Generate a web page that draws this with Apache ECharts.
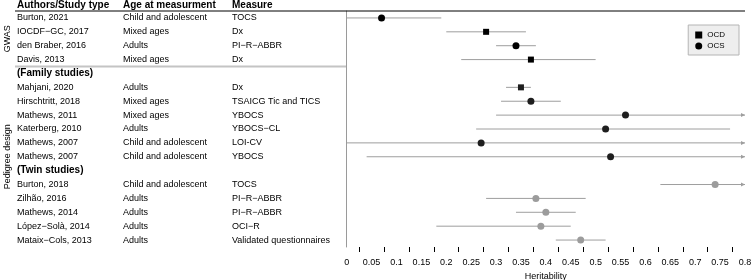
<!DOCTYPE html>
<html>
<head>
<meta charset="utf-8">
<script src="https://cdn.jsdelivr.net/npm/echarts@6/dist/echarts.min.js"></script>
<style>
  html, body { margin: 0; padding: 0; background: #fff; }
  #main { width: 752px; height: 280px; }
</style>
</head>
<body>
<div id="main"></div>
<script>
// table rows, top to bottom
var authors = ['Burton, 2021', 'IOCDF\u2212GC, 2017', 'den Braber, 2016', 'Davis, 2013',
    '(Family studies)', 'Mahjani, 2020', 'Hirschtritt, 2018', 'Mathews, 2011', 'Katerberg, 2010',
    'Mathews, 2007', 'Mathews, 2007', '(Twin studies)', 'Burton, 2018', 'Zilhão, 2016',
    'Mathews, 2014', 'López\u2212Solà, 2014', 'Mataix\u2212Cols, 2013'];
var ages = ['Child and adolescent', 'Mixed ages', 'Adults', 'Mixed ages',
    '', 'Adults', 'Mixed ages', 'Mixed ages', 'Adults',
    'Child and adolescent', 'Child and adolescent', '', 'Child and adolescent', 'Adults',
    'Adults', 'Adults', 'Adults'];
var measures = ['TOCS', 'Dx', 'PI\u2212R\u2212ABBR', 'Dx',
    '', 'Dx', 'TSAICG Tic and TICS', 'YBOCS', 'YBOCS\u2212CL',
    'LOI-CV', 'YBOCS', '', 'TOCS', 'PI\u2212R\u2212ABBR',
    'PI\u2212R\u2212ABBR', 'OCI\u2212R', 'Validated questionnaires'];
var groups = ['gwas', 'gwas', 'gwas', 'gwas',
    null, 'family', 'family', 'family', 'family',
    'family', 'family', null, 'twin', 'twin',
    'twin', 'twin', 'twin'];
var phenotypes = ['OCS', 'OCD', 'OCS', 'OCD',
    null, 'OCD', 'OCS', 'OCS', 'OCS',
    'OCS', 'OCS', null, 'OCS', 'OCS',
    'OCS', 'OCS', 'OCS'];
var estimates = [0.07, 0.28, 0.34, 0.37,
    null, 0.35, 0.37, 0.56, 0.52,
    0.27, 0.53, null, 0.74, 0.38,
    0.40, 0.39, 0.47];
var lower = [0, 0.20, 0.30, 0.23,
    null, 0.32, 0.31, 0.30, 0.26,
    0, 0.04, null, 0.63, 0.28,
    0.34, 0.18, 0.42];
var upper = [0.19, 0.36, 0.38, 0.50,
    null, 0.37, 0.43, 1.0, 0.77,
    1.0, 1.0, null, 1.0, 0.48,
    0.46, 0.45, 0.52];
var xMax = 0.8;

var groupColor = { gwas: '#000', family: '#1e1e1e', twin: '#9c9c9c' };
var ciColor = '#9e9e9e';

function pointData(type) {
    var out = [];
    for (var i = 0; i < estimates.length; i++) {
        if (phenotypes[i] !== type) continue;
        out.push({ value: [estimates[i], i], itemStyle: { color: groupColor[groups[i]] } });
    }
    return out;
}

var ciData = [];
for (var i = 0; i < estimates.length; i++) {
    if (estimates[i] === null) continue;
    ciData.push([lower[i], upper[i], i]);
}

function renderCI(params, api) {
    var lo = api.value(0), hi = api.value(1), row = api.value(2);
    var p0 = api.coord([Math.max(lo, 0), row]);
    var p1 = api.coord([Math.min(hi, xMax), row]);
    var kids = [{
        type: 'line',
        shape: { x1: p0[0], y1: p0[1], x2: p1[0], y2: p1[1] },
        style: { stroke: ciColor, lineWidth: 1 }
    }];
    if (hi > xMax) {
        kids.push({
            type: 'polygon',
            shape: { points: [[p1[0] - 4, p1[1] - 2], [p1[0], p1[1]], [p1[0] - 4, p1[1] + 2]] },
            style: { fill: ciColor }
        });
    }
    return { type: 'group', children: kids };
}

var font = 'Liberation Sans, Arial, Helvetica, sans-serif';

var option = {
    animation: false,
    textStyle: { fontFamily: font },
    title: {
        left: 17, top: 0, padding: 0,
        text: '{a|Authors/Study type}{b|Age at measurment}{c|Measure}',
        textStyle: {
            rich: {
                a: { width: 106, fontSize: 10, fontWeight: 'bold', color: '#000', fontFamily: font },
                b: { width: 109, fontSize: 10, fontWeight: 'bold', color: '#000', fontFamily: font },
                c: { fontSize: 10, fontWeight: 'bold', color: '#000', fontFamily: font }
            }
        }
    },
    legend: {
        right: 13, top: 25,
        orient: 'vertical',
        backgroundColor: '#eeeeee',
        borderColor: '#b4b4b4',
        borderWidth: 1,
        borderRadius: 0,
        padding: [6, 14, 5, 7],
        itemWidth: 7, itemHeight: 7, itemGap: 3,
        textStyle: { fontSize: 8, color: '#000', fontFamily: font },
        data: ['OCD', 'OCS']
    },
    grid: { left: 346.7, right: 7, top: 11, bottom: 33, outerBoundsMode: 'none' },
    xAxis: {
        type: 'value',
        min: 0, max: xMax, interval: 0.05,
        name: 'Heritability',
        nameLocation: 'middle',
        nameGap: 23,
        nameTextStyle: { fontSize: 9, color: '#000', fontFamily: font },
        axisLine: { lineStyle: { color: '#000', width: 1 } },
        axisTick: { length: 5, lineStyle: { color: '#000' } },
        minorTick: { show: true, splitNumber: 2, length: 5, lineStyle: { color: '#000' } },
        axisLabel: { fontSize: 9, color: '#000', margin: 11, fontFamily: font },
        splitLine: { show: false },
        minorSplitLine: { show: false }
    },
    yAxis: {
        type: 'category',
        inverse: true,
        data: authors,
        axisLine: { lineStyle: { color: '#9a9a9a' } },
        axisTick: { show: false },
        splitLine: { show: false },
        axisLabel: {
            align: 'left',
            margin: 329.7,
            interval: 0,
            formatter: function (v, idx) {
                if (groups[idx] === null) return '{h|' + authors[idx] + '}';
                return '{a|' + authors[idx] + '}{b|' + ages[idx] + '}{c|' + measures[idx] + '}';
            },
            rich: {
                a: { width: 106, fontSize: 9, color: '#000', fontFamily: font },
                b: { width: 109, fontSize: 9, color: '#000', fontFamily: font },
                c: { fontSize: 9, color: '#000', fontFamily: font },
                h: { fontSize: 10, fontWeight: 'bold', color: '#000', fontFamily: font }
            }
        }
    },
    series: [
        {
            name: 'CI',
            type: 'custom',
            renderItem: renderCI,
            encode: { x: [0, 1], y: 2 },
            clip: false,
            silent: true,
            z: 1,
            data: ciData
        },
        {
            name: 'OCD',
            type: 'scatter',
            symbol: 'rect',
            symbolSize: 6,
            itemStyle: { color: '#000', opacity: 1 },
            z: 3,
            data: pointData('OCD')
        },
        {
            name: 'OCS',
            type: 'scatter',
            symbol: 'circle',
            symbolSize: 7,
            itemStyle: { color: '#000', opacity: 1 },
            z: 3,
            data: pointData('OCS')
        }
    ]
};

var chart = echarts.init(document.getElementById('main'));
chart.setOption(option);

// table rules and the rotated design labels, placed from the axis scale
var rowY = function (i) { return chart.convertToPixel({ yAxisIndex: 0 }, i); };
var axisX = chart.convertToPixel({ xAxisIndex: 0 }, 0);
var endX = chart.convertToPixel({ xAxisIndex: 0 }, xMax);
var step = rowY(1) - rowY(0);
var topY = rowY(0) - step / 2;
var sepY = (rowY(3) + rowY(4)) / 2;

chart.setOption({
    graphic: [
        { type: 'line', shape: { x1: 15, y1: topY, x2: endX, y2: topY }, style: { stroke: '#000', lineWidth: 1 }, z: 10 },
        { type: 'line', shape: { x1: 15, y1: sepY, x2: axisX, y2: sepY }, style: { stroke: '#c4c4c4', lineWidth: 2 } },
        {
            type: 'text', x: 8, y: (rowY(0) + rowY(3)) / 2, rotation: Math.PI / 2,
            style: { text: 'GWAS', fontSize: 9, fill: '#000', align: 'center', verticalAlign: 'middle', fontFamily: font }
        },
        {
            type: 'text', x: 8, y: (rowY(4) + rowY(16)) / 2, rotation: Math.PI / 2,
            style: { text: 'Pedigree design', fontSize: 9, fill: '#000', align: 'center', verticalAlign: 'middle', fontFamily: font }
        }
    ]
});
</script>
</body>
</html>
